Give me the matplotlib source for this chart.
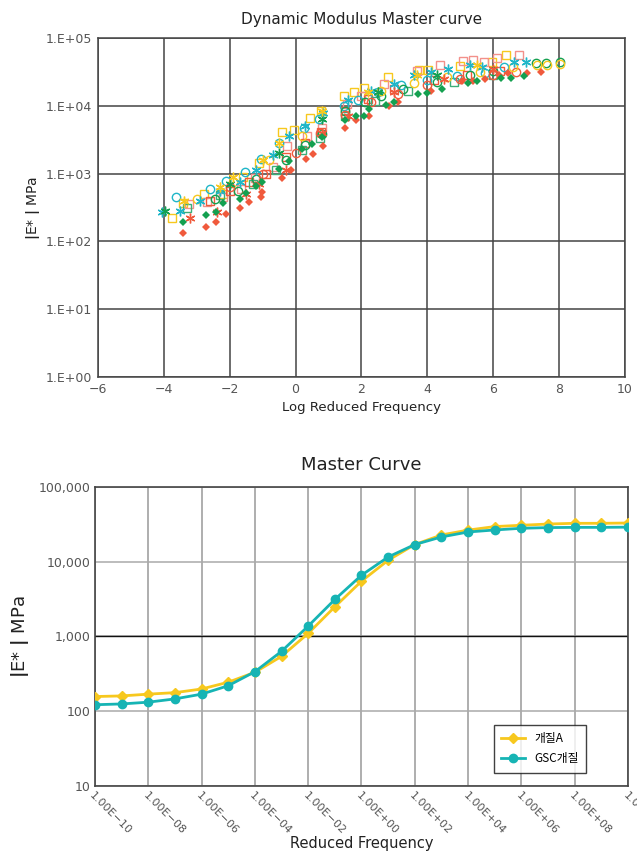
import numpy as np
import matplotlib
matplotlib.use("Agg")
import matplotlib.pyplot as plt
from matplotlib.ticker import FixedLocator, NullLocator

plt.rcParams['font.family'] = ['DejaVu Sans', 'Noto Sans CJK KR']

# ---- top chart: log reduced frequency vs log10 |E*|
red_dia_x = [-3.41, -2.72, -2.41, -2.10, -1.70, -1.40, -1.06, -1.01, -0.40, -0.14, 0.31, 0.52, 0.82,
             1.51, 1.82, 2.23, 2.82, 3.10, 4.10, 5.05, 5.40, 5.74, 6.17, 6.45, 7.02, 7.45]
red_dia_y = [2.13, 2.22, 2.28, 2.40, 2.50, 2.58, 2.66, 2.73, 2.94, 3.05, 3.22, 3.29, 3.41,
             3.67, 3.79, 3.85, 3.99, 4.06, 4.22, 4.37, 4.37, 4.40, 4.46, 4.48, 4.49, 4.50]
grn_dia_x = [-3.41, -2.72, -2.41, -2.19, -1.70, -1.50, -1.21, -1.02, -0.50, -0.19, 0.18, 0.49, 0.80,
             1.51, 1.82, 2.07, 2.23, 2.74, 3.00, 3.73, 4.00, 4.43, 5.23, 5.51, 6.24, 6.53, 6.94]
grn_dia_y = [2.29, 2.39, 2.43, 2.56, 2.63, 2.72, 2.82, 2.88, 3.07, 3.19, 3.36, 3.43, 3.54,
             3.79, 3.85, 3.85, 3.95, 4.01, 4.06, 4.17, 4.19, 4.25, 4.33, 4.36, 4.41, 4.41, 4.44]
yel_sq_x = [-3.74, -3.41, -2.77, -2.21, -1.60, -1.10, -0.40, -0.04, 0.44, 0.77,
            1.46, 1.77, 2.07, 2.79, 3.76, 4.02, 4.99, 5.97, 6.38]
yel_sq_y = [2.35, 2.57, 2.70, 2.70, 2.95, 3.15, 3.61, 3.65, 3.82, 3.93,
            4.15, 4.21, 4.27, 4.43, 4.53, 4.53, 4.59, 4.64, 4.75]
pnk_sq_x = [-3.25, -2.70, -2.20, -1.65, -1.22, -0.70, -0.25, 0.35, 0.80,
            1.55, 2.00, 2.69, 3.69, 4.38, 5.07, 5.40, 5.71, 6.10, 6.79]
pnk_sq_y = [2.55, 2.58, 2.66, 2.78, 2.94, 3.10, 3.40, 3.55, 3.68,
            4.02, 4.15, 4.32, 4.51, 4.60, 4.66, 4.67, 4.64, 4.71, 4.75]
red_sq_x = [-2.60, -2.00, -1.40, -0.90, -0.30, 0.30, 0.78, 1.50, 2.20, 3.00, 4.20, 5.20, 6.20]
red_sq_y = [2.60, 2.75, 2.88, 3.00, 3.25, 3.45, 3.62, 3.92, 4.10, 4.25, 4.38, 4.45, 4.52]
grn_sq_x = [-3.30, -2.30, -1.30, -0.60, 0.20, 0.75, 1.50, 2.40, 3.40, 4.80, 6.00]
grn_sq_y = [2.50, 2.68, 2.85, 3.05, 3.35, 3.52, 3.85, 4.07, 4.22, 4.35, 4.45]
cyn_ci_x = [-3.62, -2.60, -2.11, -1.55, -1.04, -0.50, 0.26, 0.70,
            1.46, 1.90, 2.50, 3.20, 4.00, 4.89, 5.76, 6.33]
cyn_ci_y = [2.66, 2.77, 2.89, 3.02, 3.21, 3.45, 3.67, 3.80,
            4.00, 4.08, 4.20, 4.30, 4.38, 4.44, 4.49, 4.57]
grn_ci_x = [-2.44, -1.76, -1.20, -0.28, 0.30, 0.80, 1.51, 2.10, 2.60, 3.25, 4.30, 5.30, 6.00, 7.30, 7.61, 8.02]
grn_ci_y = [2.62, 2.75, 2.92, 3.20, 3.42, 3.58, 3.93, 4.05, 4.15, 4.25, 4.35, 4.45, 4.52, 4.63, 4.63, 4.64]
red_ci_x = [-2.00, -1.00, 0.00, 0.75, 1.50, 2.30, 3.10, 4.00, 5.00, 6.00, 6.70]
red_ci_y = [2.80, 3.00, 3.30, 3.60, 3.87, 4.05, 4.18, 4.30, 4.40, 4.45, 4.50]
yel_ci_x = [-3.00, -1.90, -0.80, 0.20, 2.60, 3.60, 4.60, 5.60, 6.60, 7.33, 7.63, 8.02]
yel_ci_y = [2.62, 2.88, 3.20, 3.55, 4.22, 4.33, 4.42, 4.50, 4.57, 4.60, 4.60, 4.62]
cyn_st_x = [-4.07, -3.50, -2.90, -2.30, -1.70, -1.20, -0.70, -0.20, 0.30, 0.82,
            1.60, 2.30, 3.00, 3.60, 4.10, 4.64, 5.30, 5.66, 6.64, 7.00]
cyn_st_y = [2.43, 2.45, 2.60, 2.75, 2.88, 3.05, 3.28, 3.56, 3.70, 3.89,
            4.08, 4.22, 4.32, 4.45, 4.50, 4.55, 4.60, 4.57, 4.64, 4.65]
grn_st_x = [-3.97, -2.00, -0.50, 0.80, 2.50, 4.30]
grn_st_y = [2.45, 2.85, 3.30, 3.80, 4.20, 4.45]
red_st_x = [-3.21, -2.39, -1.50, -1.10, -0.30, 0.80, 1.60, 3.00, 4.50, 6.00]
red_st_y = [2.35, 2.44, 2.70, 2.85, 3.05, 3.60, 3.85, 4.20, 4.40, 4.55]
yel_st_x = [-3.40, -2.30, -1.90, -1.00, -0.50, 0.80, 2.20, 3.70, 5.50]
yel_st_y = [2.60, 2.80, 2.95, 3.20, 3.45, 3.92, 4.20, 4.45, 4.60]

top_yticks = [1, 10, 100, 1000, 10000, 100000]
top_ylabels = ['1.E+00', '1.E+01', '1.E+02', '1.E+03', '1.E+04', '1.E+05']
top_xticks = [-6, -4, -2, 0, 2, 4, 6, 8, 10]

# ---- bottom chart: master curves
freq = [1e-10, 1e-9, 1e-8, 1e-7, 1e-6, 1e-5, 1e-4, 1e-3, 1e-2, 1e-1, 1e0,
        1e1, 1e2, 1e3, 1e4, 1e5, 1e6, 1e7, 1e8, 1e9, 1e10]
mod_a = [157, 160, 169, 177, 198, 244, 331, 541, 1096, 2483, 5460,
         10400, 16860, 22650, 26300, 29300, 30500, 31700, 32400, 32400, 32700]
mod_gsc = [122, 125, 132, 146, 169, 219, 337, 631, 1372, 3112, 6560,
           11500, 16860, 21300, 24800, 26400, 27800, 28400, 28600, 28600, 28800]
series_names = ['개질A', 'GSC개질']
bot_yticks = [10, 100, 1000, 10000, 100000]
bot_ylabels = ['10', '100', '1,000', '10,000', '100,000']
bot_xticks = [1e-10, 1e-8, 1e-6, 1e-4, 1e-2, 1e0, 1e2, 1e4, 1e6, 1e8, 1e10]
bot_xlabels = ['1.00E\u221210', '1.00E\u221208', '1.00E\u221206', '1.00E\u221204', '1.00E\u221202',
               '1.00E+00', '1.00E+02', '1.00E+04', '1.00E+06', '1.00E+08', '1.00E+10']

RED = '#f05a3c'
PINK = '#f3908a'
GRN = '#14a050'
YEL = '#f7c81e'
CYN = '#1fb6c8'
TXT = '#555555'
AST = (6, 2, 0)  # six-armed asterisk

fig = plt.figure(figsize=(6.37, 8.6), dpi=100)

# ================= top =================
ax1 = fig.add_axes([0.1538, 0.5616, 0.8274, 0.3942])
ax1.set_yscale('log')
ax1.set_xlim(-6, 10)
ax1.set_ylim(1, 100000)

def pw(v):
    return [10 ** t for t in v]

ms = 5
ax1.plot(yel_sq_x, pw(yel_sq_y), 's', mfc='none', mec=YEL, ms=ms + 1, mew=1)
ax1.plot(pnk_sq_x, pw(pnk_sq_y), 's', mfc='none', mec=PINK, ms=ms + 1, mew=1)
ax1.plot(red_sq_x, pw(red_sq_y), 's', mfc='none', mec=RED, ms=ms + 1, mew=1)
ax1.plot(grn_sq_x, pw(grn_sq_y), 's', mfc='none', mec='#3cae78', ms=ms + 1, mew=1)
ax1.plot(cyn_ci_x, pw(cyn_ci_y), 'o', mfc='none', mec=CYN, ms=ms + 1, mew=1)
ax1.plot(grn_ci_x, pw(grn_ci_y), 'o', mfc='none', mec=GRN, ms=ms + 1, mew=1)
ax1.plot(red_ci_x, pw(red_ci_y), 'o', mfc='none', mec=RED, ms=ms + 1, mew=1)
ax1.plot(yel_ci_x, pw(yel_ci_y), 'o', mfc='none', mec=YEL, ms=ms + 1, mew=1)
ax1.plot(cyn_st_x, pw(cyn_st_y), marker=AST, ls='none', color=CYN, ms=ms + 2, mew=1)
ax1.plot(grn_st_x, pw(grn_st_y), marker=AST, ls='none', color=GRN, ms=ms + 2, mew=1)
ax1.plot(red_st_x, pw(red_st_y), marker=AST, ls='none', color=RED, ms=ms + 2, mew=1)
ax1.plot(yel_st_x, pw(yel_st_y), marker=AST, ls='none', color=YEL, ms=ms + 2, mew=1)
ax1.plot(red_dia_x, pw(red_dia_y), 'D', color=RED, ms=ms - 1, mew=0)
ax1.plot(grn_dia_x, pw(grn_dia_y), 'D', color=GRN, ms=ms - 1, mew=0)

ax1.yaxis.set_major_locator(FixedLocator(top_yticks))
ax1.yaxis.set_minor_locator(NullLocator())
ax1.set_yticklabels(top_ylabels)
ax1.set_xticks(top_xticks)
ax1.set_xticklabels([str(t).replace('-', '\u2212') for t in top_xticks])
ax1.grid(True, color='#444444', lw=1.1)
ax1.set_axisbelow(True)
for s in ax1.spines.values():
    s.set_color('#444444')
    s.set_linewidth(1.1)
ax1.tick_params(length=0, labelsize=9, colors=TXT, pad=4)
ax1.set_title('Dynamic Modulus Master curve', fontsize=11, pad=10, color='#222222')
ax1.set_xlabel('Log Reduced Frequency', fontsize=9.5, color='#222222', labelpad=4)
ax1.set_ylabel('$\\mathbf{|}$E* $\\mathbf{|}$ MPa', fontsize=10, color='#222222', labelpad=3)

# ================= bottom =================
ax2 = fig.add_axes([0.1491, 0.0860, 0.8368, 0.3481])
ax2.set_xscale('log')
ax2.set_yscale('log')
ax2.set_xlim(1e-10, 1e10)
ax2.set_ylim(10, 100000)
ax2.plot(freq, mod_a, '-D', color=YEL, lw=2, ms=5, label=series_names[0], zorder=3)
ax2.plot(freq, mod_gsc, '-o', color='#16b4b4', lw=2, ms=6, label=series_names[1], zorder=4)

ax2.xaxis.set_major_locator(FixedLocator(bot_xticks))
ax2.xaxis.set_minor_locator(NullLocator())
ax2.yaxis.set_major_locator(FixedLocator(bot_yticks))
ax2.yaxis.set_minor_locator(NullLocator())
ax2.set_yticklabels(bot_ylabels)
ax2.set_xticklabels(bot_xlabels, rotation=-45, ha='left', va='top', rotation_mode='anchor')
ax2.grid(True, axis='x', color='#999999', lw=1.1)
ax2.grid(True, axis='y', color='#aaaaaa', lw=1.1)
ax2.axhline(1000, color='#111111', lw=1.0, zorder=1)
ax2.set_axisbelow(True)
for s in ax2.spines.values():
    s.set_color('#444444')
    s.set_linewidth(1.2)
ax2.tick_params(length=0, labelsize=9, colors=TXT, pad=3)
ax2.tick_params(axis='x', labelsize=8, pad=3)
ax2.set_title('Master Curve', fontsize=13, pad=12, color='#222222')
ax2.set_xlabel('Reduced Frequency', fontsize=10.5, color='#222222', labelpad=0)
ax2.set_ylabel('$\\mathbf{|}$E* $\\mathbf{|}$ MPa', fontsize=13, color='#222222', labelpad=6)
leg = ax2.legend(loc='lower left', bbox_to_anchor=(0.749, 0.045), borderaxespad=0,
                 frameon=True, fancybox=False, edgecolor='#111111', borderpad=0.6,
                 handlelength=2.0, labelspacing=0.6, prop={'family': ['Noto Sans CJK KR'], 'size': 8.5})
leg.get_frame().set_linewidth(1.0)

fig.savefig('out.png', dpi=100)
